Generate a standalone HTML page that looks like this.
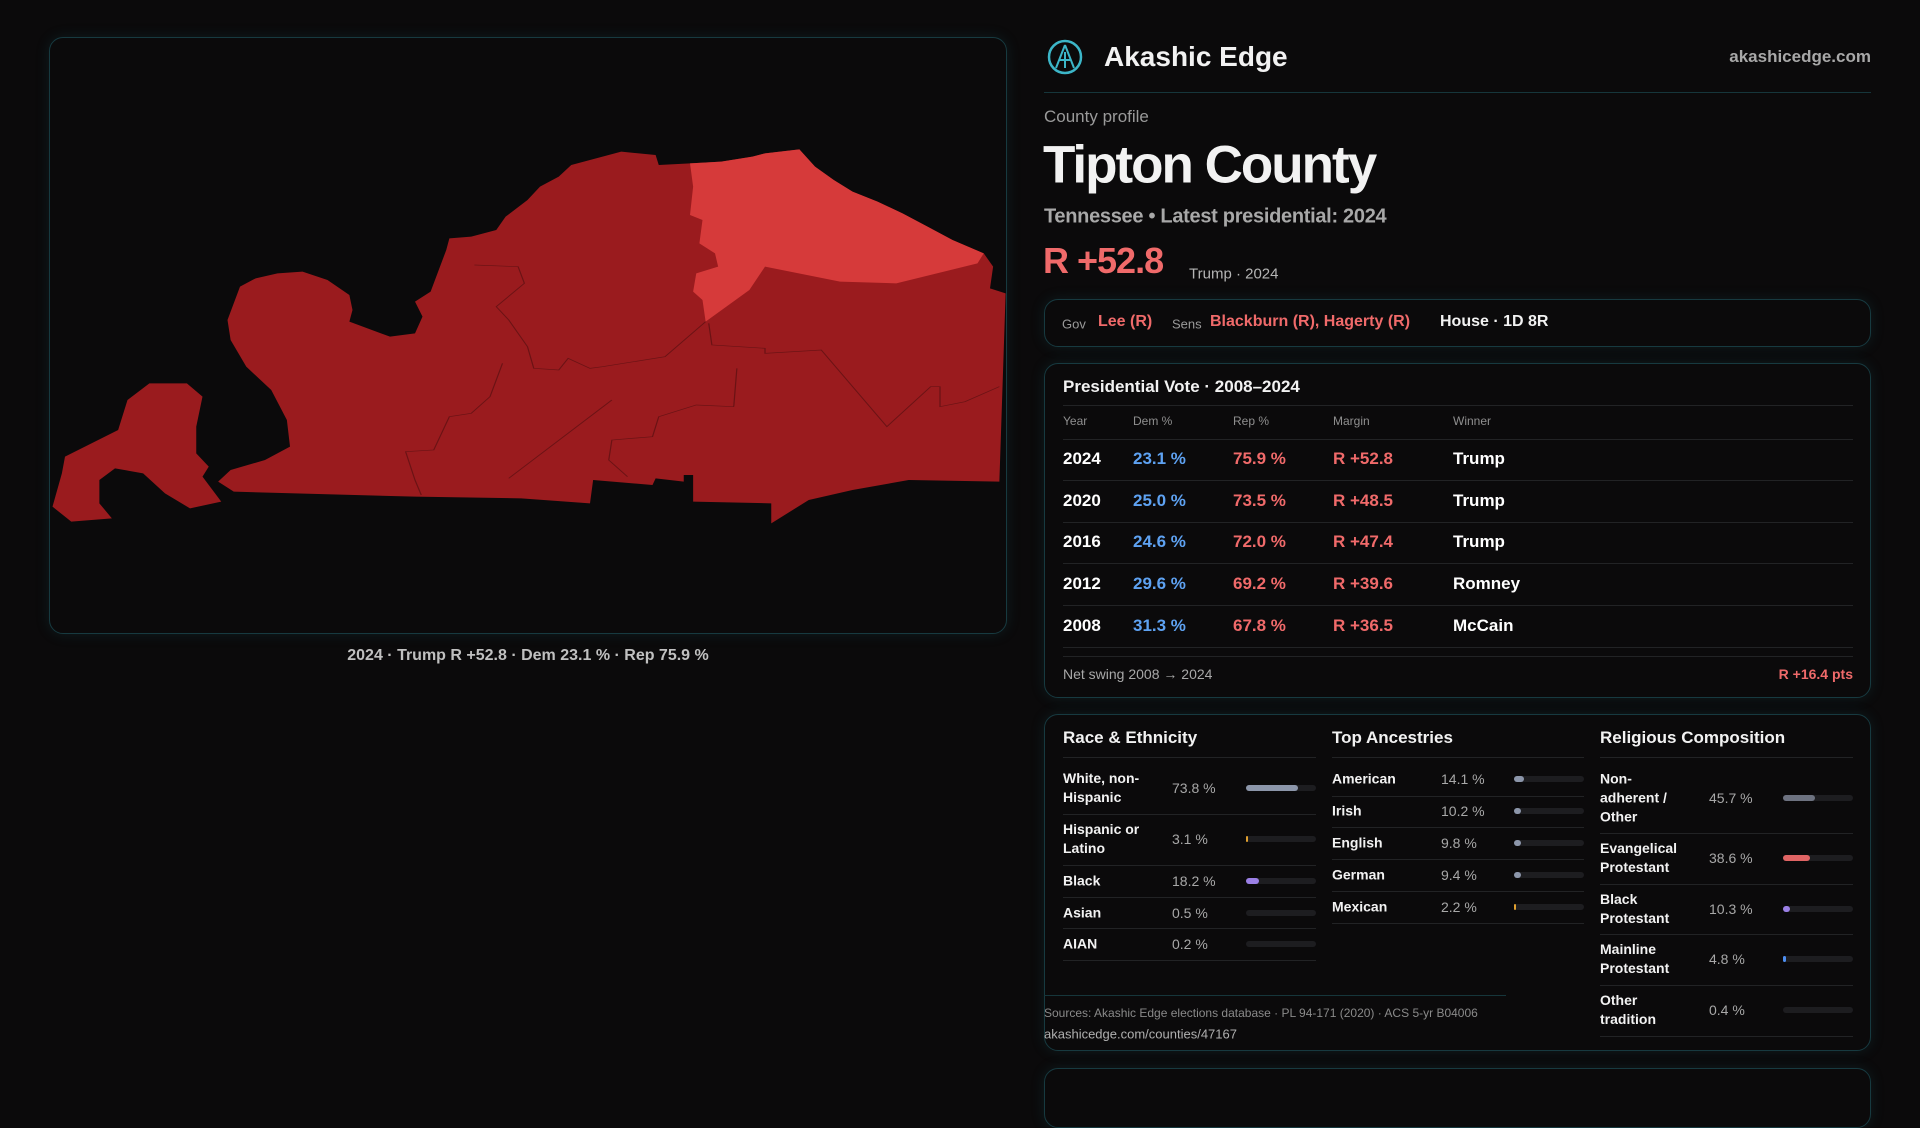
<!DOCTYPE html>
<html><head><meta charset="utf-8"><style>
*{margin:0;padding:0;box-sizing:border-box}
body{width:1920px;height:1080px;background:#0b0a0b;font-family:"Liberation Sans",sans-serif;color:#f2f2f2;position:relative;overflow:hidden}
.a{position:absolute;white-space:nowrap}
.box{position:absolute;border:1px solid #173a40;border-radius:14px;box-shadow:0 0 14px rgba(30,110,120,0.18)}
.mid{transform:translateY(-50%)}
.sep{position:absolute;height:1px;background:#222325}
.red{color:#f06a6a}.blue{color:#5ea2f2}.gray{color:#9a9a9a}
.bar{position:absolute;height:6px;border-radius:3px;background:#1d1d20}
.bar i{position:absolute;left:0;top:0;height:6px;border-radius:3px}
</style></head><body>
<div class="box" style="left:49px;top:37px;width:958px;height:597px"></div>
<svg style="position:absolute;left:40px;top:120px" width="980" height="420" viewBox="0 0 1568 1260" preserveAspectRatio="none">
<path fill="#9a1b1e" d="M850,135 L930,95 985,105 990,135 1040,130 1090,125 1140,110 1160,100 1215,88 1240,140 1270,180 1300,215 1340,245 1380,280 1420,320 1460,360 1510,400 1525,440 1520,505 1545,520 1535,1085 1390,1080 1300,1110 1230,1140 1170,1210 1170,1150 1045,1145 1045,1065 1030,1065 1030,1085 985,1075 980,1095 885,1080 880,1150 770,1135 600,1130 310,1115 285,1085 305,1050 360,1020 400,980 395,900 370,810 330,740 305,660 300,600 320,500 345,475 380,460 420,455 460,480 495,525 500,570 495,605 560,650 600,640 612,590 600,545 625,515 640,440 650,390 655,355 690,350 730,330 745,290 780,240 800,200 830,170Z"/>
<path fill="#d63a3a" d="M1040,130 L1090,125 1140,110 1160,100 1215,88 1240,140 1270,180 1300,215 1340,245 1380,280 1420,320 1460,360 1510,400 1500,430 1370,490 1280,485 1160,440 1135,510 1065,605 1060,540 1045,515 1050,460 1085,440 1080,400 1055,370 1060,300 1040,285 1045,200Z"/>
<path fill="#9a1b1e" d="M40,1010 L125,930 140,840 175,790 235,790 260,830 250,920 250,1000 270,1040 260,1070 290,1145 240,1165 200,1120 165,1060 120,1045 95,1080 95,1150 115,1195 50,1205 20,1160 35,1060Z"/>
<g fill="none" stroke="rgba(0,0,0,0.3)" stroke-width="2">
<polyline points="1535,800 1480,845 1440,860 1440,800 1425,800 1355,920 1250,690 1160,700 1160,685 1075,675 1070,610"/>
<polyline points="1065,605 1000,710 900,740 880,745 845,715 830,750 790,745 780,680 750,600 730,560 775,490 765,440 695,435"/>
<polyline points="1110,860 1050,855 990,890 980,950 915,960 910,1020 940,1070"/>
<polyline points="750,1075 915,840"/>
<polyline points="740,730 720,830 690,880 655,890 630,990 585,995 600,1080 610,1125"/>
<polyline points="1115,745 1110,860"/>
</g></svg>
<div class="a gray" style="left:528px;top:656px;transform:translate(-50%,-50%);font-size:16px;font-weight:bold;color:#c0c0c0">2024 · Trump R +52.8 · Dem 23.1 % · Rep 75.9 %</div>

<svg class="a" style="left:1046px;top:38px" width="38" height="38" viewBox="0 0 38 38"><circle cx="19" cy="19" r="16" fill="none" stroke="#3cb6c8" stroke-width="2.5"/><path d="M19 7 L10 30 M19 7 L28 30 M13 22 H25 M19 14 V30" stroke="#3cb6c8" stroke-width="2" fill="none"/></svg>
<div class="a mid" style="left:1104px;top:57px;font-size:28px;font-weight:bold">Akashic Edge</div>
<div class="a mid" style="right:49px;top:57px;font-size:17px;font-weight:bold;color:#a8a8a8">akashicedge.com</div>
<div class="sep" style="left:1044px;top:92px;width:827px;background:#16363b"></div>
<div class="a mid gray" style="left:1044px;top:117px;font-size:17px">County profile</div>
<div class="a mid" style="left:1043px;top:165px;font-size:53px;font-weight:bold;letter-spacing:-2px">Tipton County</div>
<div class="a mid" style="left:1044px;top:217px;font-size:20px;font-weight:bold;color:#a8a8a8;letter-spacing:-0.3px">Tennessee • Latest presidential: 2024</div>
<div class="a mid red" style="left:1043px;top:261px;font-size:36px;font-weight:bold;letter-spacing:-1px">R +52.8</div>
<div class="a mid" style="left:1189px;top:274px;font-size:15px;color:#b5b5b5">Trump · 2024</div>

<div class="box" style="left:1044px;top:299px;width:827px;height:48px"></div>
<div class="a mid gray" style="left:1062px;top:324px;font-size:13px">Gov</div>
<div class="a mid red" style="left:1098px;top:322px;font-size:16px;font-weight:bold">Lee (R)</div>
<div class="a mid gray" style="left:1172px;top:324px;font-size:13px">Sens</div>
<div class="a mid red" style="left:1210px;top:322px;font-size:16px;font-weight:bold">Blackburn (R), Hagerty (R)</div>
<div class="a mid" style="left:1440px;top:322px;font-size:16px;font-weight:bold">House · 1D 8R</div>

<div class="box" style="left:1044px;top:363px;width:827px;height:335px"></div>
<div class="a mid" style="left:1063px;top:387px;font-size:17px;font-weight:bold">Presidential Vote · 2008–2024</div>
<div class="sep" style="left:1063px;top:405px;width:790px"></div>
<div id="ptable"></div>
<div class="sep" style="left:1063px;top:656px;width:790px"></div>
<div class="a mid" style="left:1063px;top:674px;font-size:14px;color:#a8a8a8">Net swing 2008 → 2024</div>
<div class="a mid red" style="right:67px;top:674px;font-size:14px;font-weight:bold">R +16.4 pts</div>

<div class="box" style="left:1044px;top:714px;width:827px;height:337px"></div>
<div class="box" style="left:1044px;top:1068px;width:827px;height:60px"></div>
<div id="demo"></div>
<div class="sep" style="left:1044px;top:995px;width:462px;background:#16363b"></div>
<div class="a mid" style="left:1044px;top:1013px;font-size:12px;color:#8a8a8a">Sources: Akashic Edge elections database · PL 94-171 (2020) · ACS 5-yr B04006</div>
<div class="a mid" style="left:1044px;top:1034px;font-size:13px;color:#b0b0b0">akashicedge.com/counties/47167</div>

<script>
const years=["2024","2020","2016","2012","2008"];
const demPct=[23.1,25.0,24.6,29.6,31.3];
const repPct=[75.9,73.5,72.0,69.2,67.8];
const winners=["Trump","Trump","Trump","Romney","McCain"];
const raceLabels=["White, non-|Hispanic","Hispanic or|Latino","Black","Asian","AIAN"];
const raceValues=[73.8,3.1,18.2,0.5,0.2];
const ancLabels=["American","Irish","English","German","Mexican"];
const ancValues=[14.1,10.2,9.8,9.4,2.2];
const relLabels=["Non-|adherent /|Other","Evangelical|Protestant","Black|Protestant","Mainline|Protestant","Other|tradition"];
const relValues=[45.7,38.6,10.3,4.8,0.4];
const raceColors=["#8c96aa","#e0a030","#9b80e6","#8c96aa","#8c96aa"];
const ancColors=["#8c96aa","#8c96aa","#8c96aa","#8c96aa","#e0a030"];
const relColors=["#6d7280","#e06464","#9b80e6","#4d8ef0","#6d7280"];

function mk(parent,cls,style,text){const d=document.createElement('div');d.className=cls;d.style.cssText=style;if(text!==undefined)d.innerHTML=text;parent.appendChild(d);return d;}
const pt=document.getElementById('ptable');
const cols=[1063,1133,1233,1333,1453];
const heads=["Year","Dem %","Rep %","Margin","Winner"];
heads.forEach((h,i)=>{const e=mk(pt,'a mid','left:'+cols[i]+'px;top:421px;font-size:12px;color:#8f8f8f',h);

});
mk(pt,'sep','left:1063px;top:439px;width:790px');
years.forEach((y,i)=>{const top=459+i*41.7;
const m=(repPct[i]-demPct[i]).toFixed(1);
const vals=[[y,'#fff'],[demPct[i].toFixed(1)+' %','#5ea2f2'],[repPct[i].toFixed(1)+' %','#f06a6a'],['R +'+m,'#f06a6a'],[winners[i],'#fff']];
vals.forEach((v,j)=>{const e=mk(pt,'a mid','left:'+cols[j]+'px;top:'+top+'px;font-size:17px;font-weight:bold;color:'+v[1],v[0]);

});
const s=mk(pt,'sep','left:1063px;top:'+(top+21)+'px;width:790px');

});

const dm=document.getElementById('demo');
function section(title,x,labels,values,colors,pctX,barX,rowCenters,seps,name){
const t=mk(dm,'a mid','left:'+x+'px;top:738px;font-size:17px;font-weight:bold',title);


const r=mk(dm,'sep','left:'+x+'px;top:757px;width:'+(barX+70-x)+'px');
labels.forEach((l,i)=>{const c=rowCenters[i];
const e=mk(dm,'a mid','left:'+x+'px;top:'+c+'px;font-size:14px;font-weight:bold;line-height:19px',l.split('|').join('<br>'));


const p=mk(dm,'a mid','left:'+pctX+'px;top:'+c+'px;font-size:14px;color:#a8a8a8',values[i].toFixed(1)+' %');


const b=mk(dm,'bar','left:'+barX+'px;top:'+(c-3)+'px;width:70px');


const f=document.createElement('i');const w=values[i]/100*70;f.style.width=(w<1?0:Math.max(2,w))+'px';f.style.background=colors[i];b.appendChild(f);
const s=mk(dm,'sep','left:'+x+'px;top:'+seps[i]+'px;width:'+(barX+70-x)+'px');});
}
section('Race &amp; Ethnicity',1063,raceLabels,raceValues,raceColors,1172,1246,[788,839,881,913,944],[814,865,897,928,960],'race');
section('Top Ancestries',1332,ancLabels,ancValues,ancColors,1441,1514,[779,811,843,875,907],[796,827,859,891,923],'ancestry');
section('Religious Composition',1600,relLabels,relValues,relColors,1709,1783,[798,858,909,959,1010],[833,884,934,985,1036],'religion');
</script>
</body></html>
